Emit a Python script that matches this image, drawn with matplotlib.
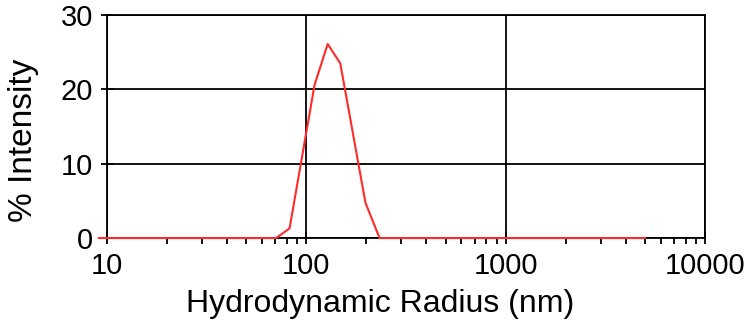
import matplotlib.pyplot as plt
from matplotlib.ticker import LogLocator, NullFormatter, FixedLocator

plt.rcParams['font.family'] = ['Liberation Sans', 'DejaVu Sans']

# Size distribution
radius = [9.1, 70.6, 82.4, 110, 128, 148, 198, 233, 5000]
intensity = [0, 0, 1.3, 20.6, 26.1, 23.5, 4.75, 0, 0]

fig = plt.figure(figsize=(7.47, 3.23), dpi=100)
ax = fig.add_axes([0.1432, 0.263, 0.8006, 0.6906])

ax.plot(radius, intensity, color='#ff2a2a', lw=1.5, clip_on=False, zorder=3)

ax.set_xscale('log')
ax.set_xlim(10, 10000)
ax.set_ylim(0, 30)
ax.xaxis.set_major_locator(FixedLocator([10, 100, 1000, 10000]))
ax.set_xticklabels(['10', '100', '1000', '10000'])
ax.xaxis.set_minor_locator(LogLocator(base=10, subs=range(2, 10)))
ax.xaxis.set_minor_formatter(NullFormatter())
ax.set_yticks([0, 10, 20, 30])

ax.grid(True, which='major', color='black', lw=1.3)
for s in ax.spines.values():
    s.set_linewidth(1.3)
    s.set_color('black')

ax.tick_params(axis='both', which='major', direction='inout', length=8,
               width=1.3, labelsize=21, pad=6)
ax.tick_params(axis='x', which='minor', direction='out', length=4, width=1.3)

ax.set_xlabel('Hydrodynamic Radius (nm)', fontsize=23)
ax.xaxis.set_label_coords(0.457, -0.23, transform=ax.transAxes)
ax.xaxis.label.set_va('top')
ax.set_ylabel('% Intensity', fontsize=24)
ax.yaxis.set_label_coords(-0.139, 0.44, transform=ax.transAxes)
ax.yaxis.label.set_va('center')

plt.savefig('out.png', dpi=100)
